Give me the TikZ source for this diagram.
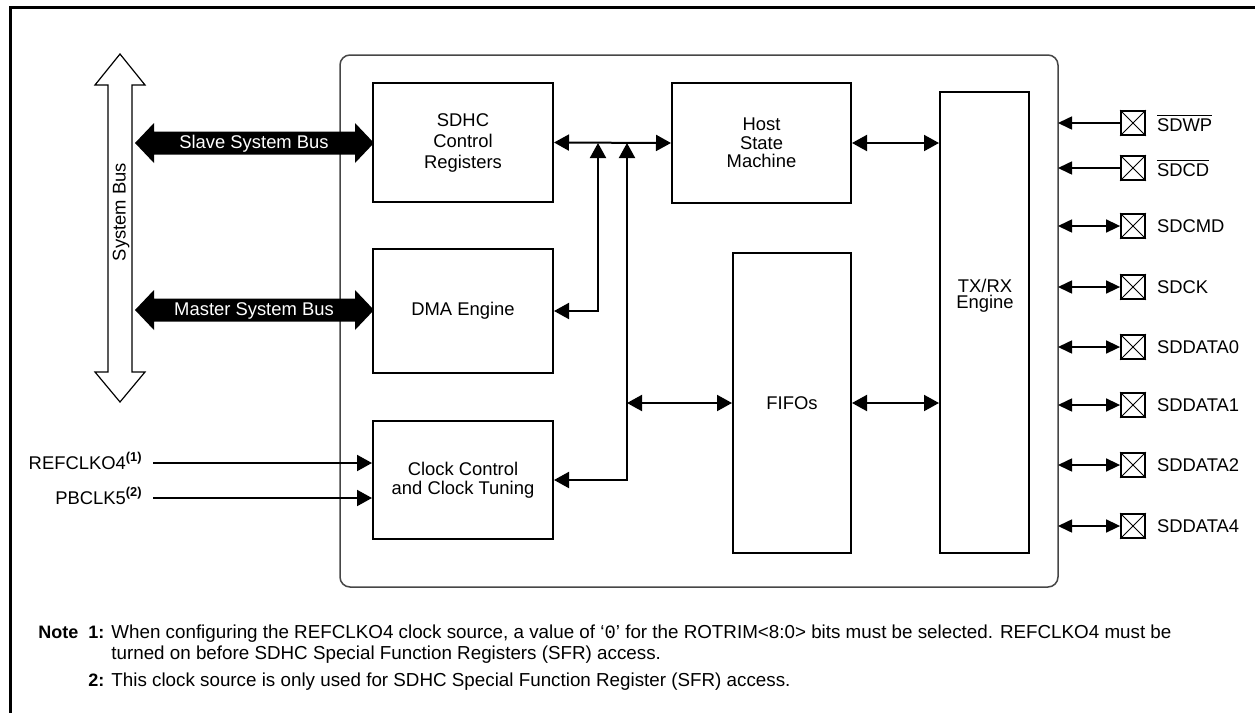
\documentclass[tikz,border=0pt]{standalone}
\usepackage{fontspec}
\setmainfont{Liberation Sans}
\newfontfamily\codefont{Liberation Mono}
\usetikzlibrary{arrows.meta,positioning}

\begin{document}
\begin{tikzpicture}[
    x=0.5pt,y=-0.5pt,
    every node/.style={font=\fontsize{9.2}{10.5}\selectfont},
    >={Triangle[length=7.5pt,width=8pt]},
    blk/.style={draw,line width=1pt,inner sep=0pt,align=center},
    link/.style={line width=1pt},
    pinlink/.style={line width=0.8pt,>={Triangle[length=7pt,width=6.5pt]}},
    pinbox/.style={draw,line width=0.9pt,minimum size=12pt,inner sep=0pt},
    note/.style={anchor=base west,inner sep=0pt,font=\fontsize{9.4}{10}\selectfont},
    notenum/.style={note,font=\bfseries\fontsize{9}{10}\selectfont}]
    \useasboundingbox (0,0) rectangle (1255,713);

    % frame and module outline
    \draw[line width=1.5pt] (10,713) -- (10,7.5) -- (1255,7.5);
    \draw[gray!55!black,line width=0.75pt,rounded corners=5pt]
        (340,55) rectangle (1058,587);

    % blocks
    \node[blk,minimum width=90pt,minimum height=59.5pt] (sdhc) at (463,142.5)
        {SDHC\\Control\\Registers};
    \node[blk,minimum width=90pt,minimum height=62pt] (dma) at (463,311) {DMA Engine};
    \node[blk,minimum width=90pt,minimum height=59pt,font=\fontsize{9.2}{9.6}\selectfont]
        (clk) at (463,480) {Clock Control\\and Clock Tuning};
    \node[blk,minimum width=89.5pt,minimum height=60pt,font=\fontsize{9.2}{9.3}\selectfont]
        (host) at (761.5,143) {Host\\State\\Machine};
    \node[blk,minimum width=59pt,minimum height=150pt] (fifo) at (792,403) {FIFOs};
    \node[blk,minimum width=44.5pt,minimum height=230.5pt] (txrx) at (984.5,322.5) {};
    \node[align=center,font=\fontsize{9.2}{8}\selectfont] (txrxlbl) at (985,296)
        {TX/RX\\Engine};

    % system bus
    \draw[fill=white,line width=0.6pt] (120,54) -- (145,85) -- (132,85) -- (132,372)
        -- (145,372) -- (120,402) -- (95,372) -- (108,372) -- (108,85) -- (95,85) -- cycle;
    \node[rotate=90] (sysbus) at (121,212) {System Bus};
    \foreach \y/\t/\n in {143/Slave System Bus/slave,310/Master System Bus/master} {
        \fill (135,\y) -- (154,\y-20) -- (154,\y-11.5) -- (355,\y-11.5) -- (355,\y-20)
            -- (374,\y) -- (355,\y+20) -- (355,\y+11.5) -- (154,\y+11.5) -- (154,\y+20) -- cycle;
        \node[text=white] (\n) at (254,\y+1) {\t};
    }

    % internal links
    \coordinate (ja) at (598,143);
    \coordinate (jb) at (627,143);
    \draw[link,<->] (sdhc.east) -- (host.west);
    \draw[link,<->] (dma.east) -| (ja);
    \draw[link,<->] (clk.east) -| (jb);
    \draw[link,<->] (jb |- fifo.west) -- (fifo.west);
    \draw[link,<->] (host.east) -- (host.east -| txrx.west);
    \draw[link,<->] (fifo.east) -- (fifo.east -| txrx.west);

    % clock inputs
    \node[anchor=base east,inner sep=0pt] (refclk) at (143,469)
        {REFCLKO4\textsuperscript{\textbf{(1)}}};
    \node[anchor=base east,inner sep=0pt] (pbclk) at (143,504)
        {PBCLK5\textsuperscript{\textbf{(2)}}};
    \coordinate (refin) at (153,463);
    \coordinate (pbin) at (153,498);
    \draw[link,->] (refin) -- (refin -| clk.west);
    \draw[link,->] (pbin) -- (pbin -| clk.west);

    % pins
    \foreach \y/\n/\t/\a in {
        123/wp/{$\overline{\hbox{SDWP}}$}/{<-},
        168/cd/{$\overline{\hbox{SDCD}}$}/{<-},
        226/cmd/SDCMD/{<->},
        287/ck/SDCK/{<->},
        347/da/SDDATA0/{<->},
        405/db/SDDATA1/{<->},
        465/dc/SDDATA2/{<->},
        526/dd/SDDATA4/{<->}} {
        \node[pinbox] (\n) at (1133,\y) {};
        \draw[line width=0.4pt] (\n.north west) -- (\n.south east)
            (\n.north east) -- (\n.south west);
        \node[anchor=west] (\n lbl) at (1150,\y) {\t};
        \coordinate (\n edge) at (1058,\y);
        \draw[pinlink,\a] (\n edge) -- (\n.west);
    }

    % notes
    \node[notenum] (notehd) at (38,638) {Note};
    \node[notenum] (nonea) at (88,638) {1:};
    \node[note] (notea) at (111,638)
        {When configuring the REFCLKO4 clock source, a value of `{\codefont 0}' for the ROTRIM<8:0> bits must be selected. REFCLKO4 must be};
    \node[note] (noteb) at (111,659)
        {turned on before SDHC Special Function Registers (SFR) access.};
    \node[notenum] (nonec) at (88,686) {2:};
    \node[note] (notec) at (111,686)
        {This clock source is only used for SDHC Special Function Register (SFR) access.};
\end{tikzpicture}
\end{document}
